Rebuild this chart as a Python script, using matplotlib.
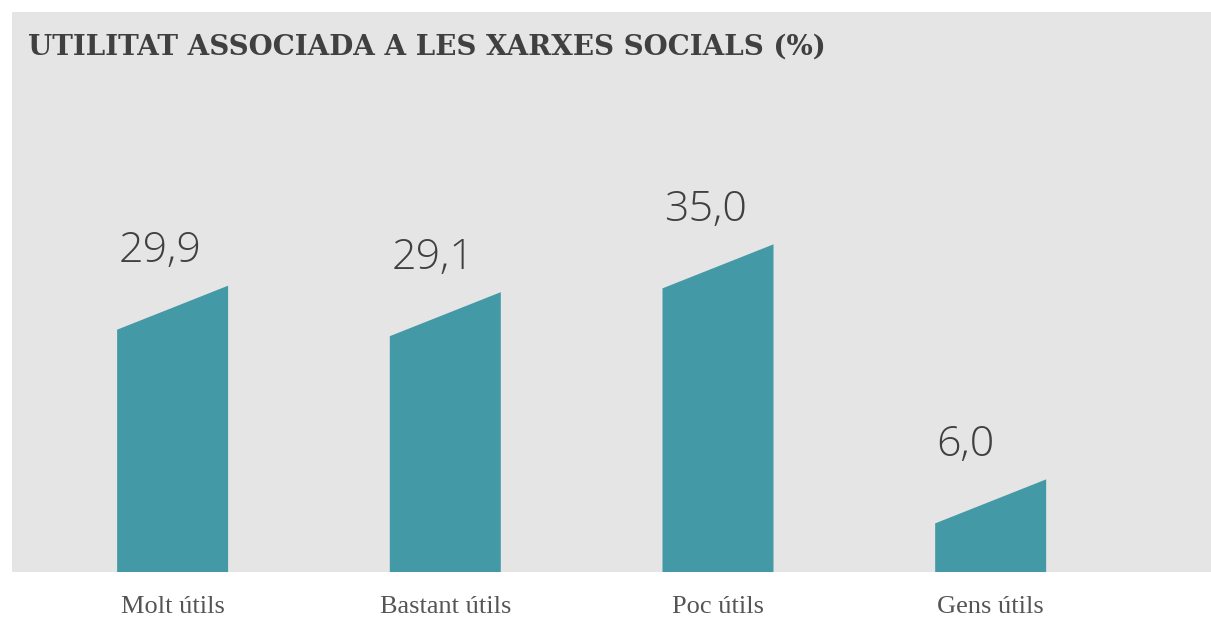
import numpy as np
import matplotlib.pyplot as plt
from matplotlib.patches import Polygon

categories = ["Molt útils", "Bastant útils", "Poc útils", "Gens útils"]
values = [29.9, 29.1, 35.0, 6.0]
value_labels = ["29,9", "29,1", "35,0", "6,0"]

title = "UTILITAT ASSOCIADA A LES XARXES SOCIALS (%)"

bar_color = "#4399a6"
panel_color = "#e5e5e5"
text_color = "#404040"

W, H = 1211, 619
fig = plt.figure(figsize=(W / 100, H / 100), dpi=100)
fig.patch.set_facecolor("white")
ax = fig.add_axes([12 / W, (H - 572) / H, 1 - 12 / W, (572 - 12) / H])
ax.set_facecolor(panel_color)

x = np.arange(len(categories))
width = 0.407
cap = 5.43  # slanted top, same for every bar

for xi, v, lab in zip(x, values, value_labels):
    poly = Polygon([(xi - width / 2, 0), (xi + width / 2, 0),
                    (xi + width / 2, v + cap), (xi - width / 2, v)],
                   closed=True, facecolor=bar_color, edgecolor="none")
    ax.add_patch(poly)
    ax.text(xi - width / 2 + 0.005, v + 8.3, lab, ha="left", va="baseline",
            fontsize=31, fontweight=300, family=["Open Sans", "DejaVu Sans"],
            color=text_color)

ax.set_xlim(-0.589, 3.808)
ax.set_ylim(0, 69.1)
ax.set_xticks(x)
ax.set_xticklabels(categories, fontsize=19, family=["Liberation Serif"],
                   color="#555555")
ax.tick_params(axis="x", length=0, pad=17)
ax.set_yticks([])
for s in ax.spines.values():
    s.set_visible(False)

fig.text(28 / W, 1 - 47 / H, title, ha="left", va="center", fontsize=20,
         fontweight="bold", family=["DejaVu Serif"], color=text_color)

fig.savefig("out.png", dpi=100)
